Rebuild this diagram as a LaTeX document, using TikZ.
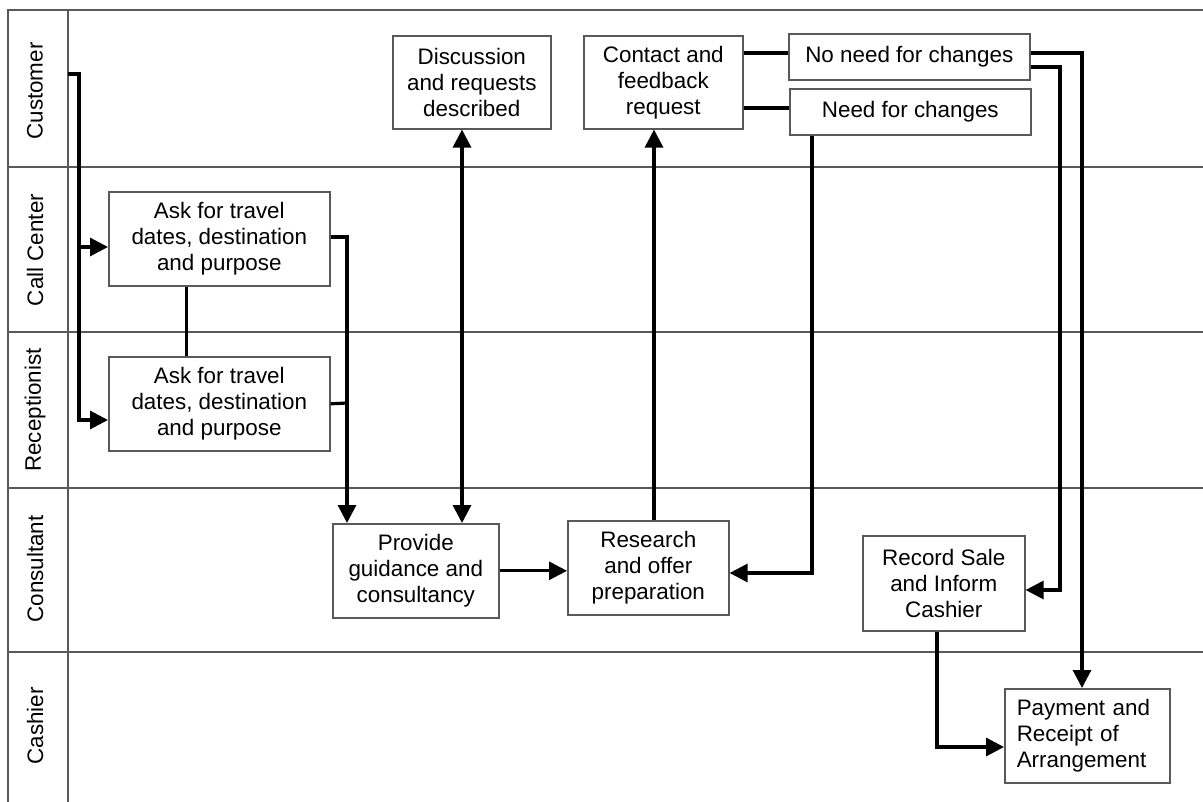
\documentclass[tikz,border=0pt]{standalone}
\usepackage{fontspec}
\setmainfont{Liberation Sans}
\usetikzlibrary{arrows.meta}
\begin{document}
\begin{tikzpicture}[x=1pt,y=-1pt,
  lane/.style={draw=black!65, line width=1.5pt},
  box/.style={draw=black!65, line width=1.6pt, rectangle, inner sep=0pt, align=center, anchor=north west, font=\fontsize{22.4}{26}\selectfont},
  lanelabel/.style={rotate=90, font=\fontsize{22.4}{26}\selectfont},
  flow/.style={draw=black, line width=3.2pt, -{Triangle[length=18pt,width=18pt]}},
  flowthin/.style={draw=black, line width=3.1pt, -{Triangle[length=18pt,width=18pt]}},
  conn/.style={draw=black, line width=3.2pt},
  connthin/.style={draw=black, line width=3pt}]
\useasboundingbox (0,0) rectangle (1203,802);
\fill[white] (0,0) rectangle (1203,802);
% lanes
\draw[lane] (1203,10) -- (8,10) -- (8,802);
\draw[lane] (68,10) -- (68,802);
\foreach \yy in {167,332,488,652} \draw[lane] (8,\yy) -- (1203,\yy);
\node[lanelabel] (l1) at (35,91) {Customer};
\node[lanelabel] (l2) at (35,250) {Call Center};
\node[lanelabel] (l3) at (35,410) {Receptionist};
\node[lanelabel] (l4) at (35,569) {Consultant};
\node[lanelabel] (l5) at (35,726) {Cashier};
% boxes
\node[box, minimum width=221pt, minimum height=94pt] (cc) at (108,191) {Ask for travel\\dates, destination\\and purpose};
\node[box, minimum width=221pt, minimum height=94pt] (rec) at (108,356) {Ask for travel\\dates, destination\\and purpose};
\node[box, minimum width=158pt, minimum height=93pt] (disc) at (392,35) {Discussion\\and requests\\described};
\node[box, minimum width=159pt, minimum height=93pt] (cont) at (583,35) {Contact and\\feedback\\request};
\node[box, minimum width=241pt, minimum height=46pt] (nn) at (788,33) {No need for changes};
\node[box, minimum width=241pt, minimum height=46pt] (need) at (789,88) {Need for changes};
\node[box, minimum width=166pt, minimum height=94pt] (prov) at (332,523) {Provide\\guidance and\\consultancy};
\node[box, minimum width=161pt, minimum height=94pt] (res) at (567,520) {Research\\and offer\\preparation};
\node[box, minimum width=162pt, minimum height=95pt] (rs) at (862,535) {Record Sale\\and Inform\\Cashier};
\node[box, minimum width=165pt, minimum height=94pt, align=left, text width=141pt, inner xsep=12pt] (pay) at (1004,688) {Payment and\\Receipt of\\Arrangement};
% connectors
\coordinate (s0) at (68,74);
\draw[flow] (s0) -- (79,74) |- (cc.west |- 0,247);
\draw[flow] (79,240) |- (rec.west |- 0,420);
\draw[flowthin] (cc.east |- 0,237) -- (347,237) -- (prov.north -| 347,0);
\draw[conn] (rec.east) -- (347,403);
\draw[connthin] (cc.south -| 186,0) -- (rec.north -| 186,0);
\draw[conn, {Triangle[length=18pt,width=18pt]}-{Triangle[length=18pt,width=18pt]}] (disc.south -| 462,0) -- (prov.north -| 462,0);
\draw[flowthin] (prov.east) -- (res.west |- prov.east);
\draw[flow] (res.north -| 654,0) -- (cont.south -| 654,0);
\draw[conn] (cont.east |- 0,53) -- (nn.west |- 0,53);
\draw[conn] (cont.east |- 0,108) -- (need.west |- 0,108);
\draw[flow] (need.south -| 812,0) |- (res.east |- 0,573);
\draw[flowthin] (nn.east |- 0,53) -| (pay.north -| 1082,0);
\draw[flow] (nn.east |- 0,67) -- (1060,67) |- (rs.east |- 0,590);
\draw[flow] (rs.south -| 937,0) |- (pay.west |- 0,747);
\end{tikzpicture}
\end{document}
